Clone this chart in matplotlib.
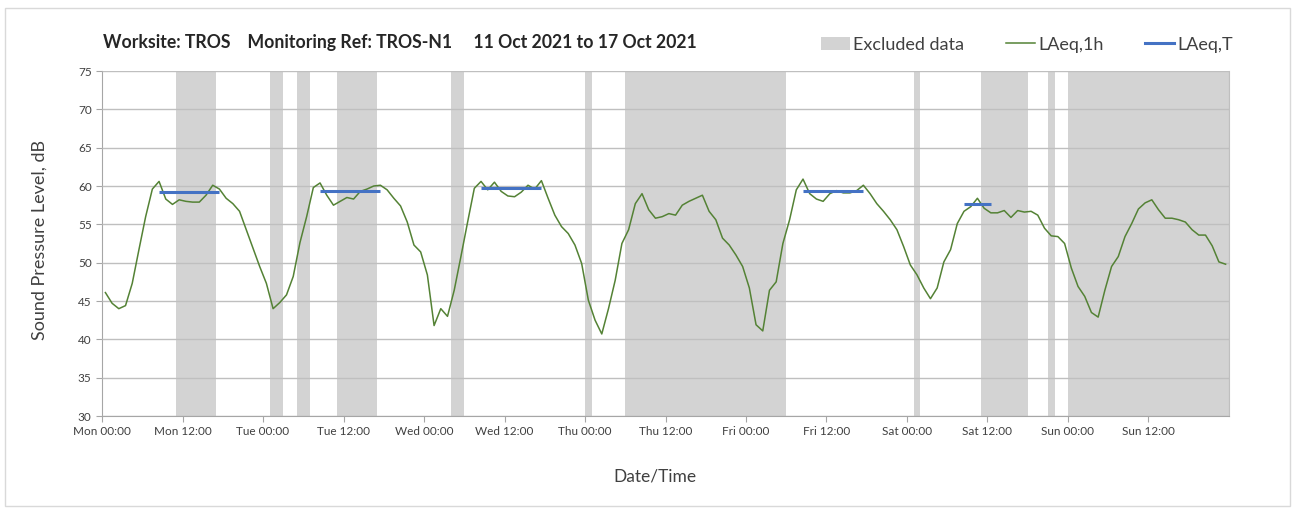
import matplotlib.pyplot as plt
from matplotlib.lines import Line2D
from matplotlib.patches import Patch, Rectangle
from matplotlib.ticker import MultipleLocator
import numpy as np

plt.rcParams['font.family'] = ['Lato', 'DejaVu Sans']

# hourly LAeq,1h values, Mon 00:00 to Sun 23:00 (plotted at mid-hour)
laeq_1h = [
    46.1, 44.7, 44.0, 44.4, 47.3, 51.7, 56.0, 59.6, 60.6, 58.3, 57.6, 58.2,
    58.0, 57.9, 57.9, 58.8, 60.1, 59.6, 58.4, 57.7, 56.7, 54.3, 51.9, 49.5,
    47.3, 44.0, 44.8, 45.8, 48.2, 52.6, 56.0, 59.8, 60.4, 58.8, 57.5, 58.0,
    58.5, 58.3, 59.3, 59.6, 60.0, 60.1, 59.5, 58.4, 57.4, 55.3, 52.3, 51.4,
    48.4, 41.8, 44.0, 43.0, 46.4, 50.8, 55.3, 59.7, 60.6, 59.5, 60.5, 59.3,
    58.7, 58.6, 59.2, 60.1, 59.6, 60.7, 58.4, 56.2, 54.7, 53.8, 52.3, 49.9,
    45.1, 42.5, 40.7, 44.0, 47.7, 52.5, 54.3, 57.7, 59.0, 56.9, 55.8, 56.0,
    56.4, 56.2, 57.5, 58.0, 58.4, 58.8, 56.7, 55.6, 53.2, 52.3, 51.0, 49.5,
    46.7, 41.9, 41.1, 46.4, 47.5, 52.5, 55.6, 59.5, 60.9, 59.0, 58.3, 58.0,
    59.0, 59.4, 59.1, 59.1, 59.4, 60.1, 59.0, 57.7, 56.7, 55.6, 54.3, 52.1,
    49.7, 48.4, 46.7, 45.3, 46.7, 50.1, 51.7, 55.1, 56.7, 57.3, 58.4, 57.1,
    56.5, 56.5, 56.8, 55.9, 56.8, 56.6, 56.7, 56.2, 54.5, 53.5, 53.4, 52.5,
    49.3, 46.9, 45.6, 43.5, 42.9, 46.4, 49.5, 50.8, 53.4, 55.1, 57.0, 57.8,
    58.2, 56.9, 55.8, 55.8, 55.6, 55.3, 54.3, 53.6, 53.6, 52.2, 50.1, 49.8,
]
hours = np.arange(len(laeq_1h)) + 0.5

# LAeq,T over each monitored period (hours from Mon 00:00)
period_start = [8.5, 32.5, 56.5, 104.5, 128.5]
period_end = [17.5, 41.5, 65.5, 113.5, 132.5]
period_laeq = [59.2, 59.4, 59.7, 59.3, 57.7]

# excluded data windows (hours from Mon 00:00)
excl_start = [11, 25, 29, 35, 52, 72, 78, 121, 131, 141, 144]
excl_end = [17, 27, 31, 41, 54, 73, 102, 122, 138, 142, 168]

tick_labels = ['Mon 00:00', 'Mon 12:00', 'Tue 00:00', 'Tue 12:00',
               'Wed 00:00', 'Wed 12:00', 'Thu 00:00', 'Thu 12:00',
               'Fri 00:00', 'Fri 12:00', 'Sat 00:00', 'Sat 12:00',
               'Sun 00:00', 'Sun 12:00']

green = '#548235'
blue = '#4472c4'
grey = '#d3d3d3'
text_col = '#404040'

fig = plt.figure(figsize=(12.95, 5.09), dpi=100)
ax = fig.add_axes([0.0788, 0.1827, 0.8702, 0.6778])

# chart border
fig.patches.append(Rectangle((0.004, 0.006), 0.992, 0.978, transform=fig.transFigure,
                             fill=False, edgecolor='#d9d9d9', lw=1))

for s, e in zip(excl_start, excl_end):
    ax.axvspan(s, e, color=grey, lw=0, zorder=1)

ax.plot(hours, laeq_1h, color=green, lw=1.1, zorder=3)
for s, e, v in zip(period_start, period_end, period_laeq):
    ax.plot([s, e], [v, v], color=blue, lw=2.2, zorder=4, solid_capstyle='butt')

ax.set_xlim(0, 168)
ax.set_ylim(30, 75)
ax.set_xticks(np.arange(0, 168, 12))
ax.set_xticklabels(tick_labels, fontsize=8.5, color=text_col)
ax.xaxis.set_minor_locator(MultipleLocator(24))
ax.yaxis.set_major_locator(MultipleLocator(5))
ax.tick_params(axis='y', labelsize=8.5, labelcolor=text_col, color='#a6a6a6', length=4)
ax.tick_params(axis='x', which='major', color='#a6a6a6', length=4)
ax.tick_params(axis='x', which='minor', length=0)

ax.grid(axis='y', color='#bfbfbf', lw=1, zorder=2)
ax.grid(axis='x', which='minor', color='#cfcfcf', lw=1, zorder=2)
ax.set_axisbelow(False)

for side in ['left', 'bottom']:
    ax.spines[side].set_color('#a6a6a6')
ax.spines['top'].set_visible(False)
ax.spines['right'].set_color('#bfbfbf')

# axis titles
fig.text(40 / 1295, 1 - 240 / 509, 'Sound Pressure Level, dB', fontsize=13, color=text_col,
         rotation=90, ha='center', va='center')
fig.text(655 / 1295, 1 - 476 / 509, 'Date/Time', fontsize=12.5, color=text_col,
         ha='center', va='center')

fig.text(0.0795, 0.917, 'Worksite: TROS    Monitoring Ref: TROS-N1     11 Oct 2021 to 17 Oct 2021',
         fontsize=12.7, fontweight='bold', color='#262626', va='center')

legend_elements = [Patch(facecolor=grey, edgecolor='none', label='Excluded data'),
                   Line2D([0], [0], color=green, lw=1.1, label='LAeq,1h'),
                   Line2D([0], [0], color=blue, lw=2.2, label='LAeq,T')]
fig.legend(handles=legend_elements, loc='center right', bbox_to_anchor=(0.965, 0.912),
           ncol=3, frameon=False, fontsize=13, handlelength=1.6, handletextpad=0.2,
           columnspacing=2.3, labelcolor=text_col)

fig.savefig('out.png', dpi=100)
